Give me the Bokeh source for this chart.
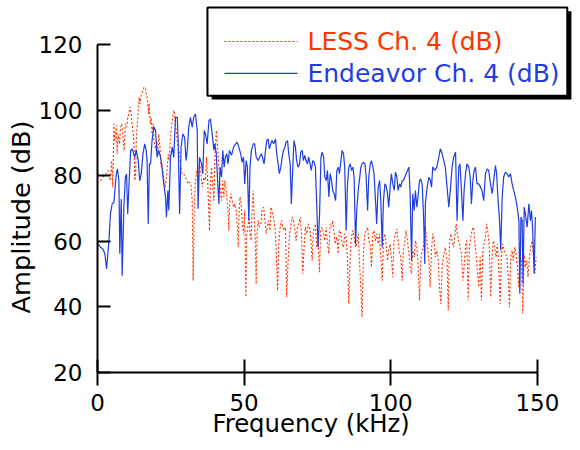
from bokeh.plotting import figure
from bokeh.models import Range1d, FixedTicker, Title
from bokeh.core.properties import value
from bokeh.embed import file_html
from bokeh.resources import INLINE

FONT = "DejaVu Sans"

# ---- data (frequency kHz, amplitude dB) ----
endeavor_pts = [
    (0.2, 59.2), (1.0, 58.2), (1.8, 57.7), (2.5, 56.2), (3.1, 51.6), (3.9, 60.2), (4.4, 68.3), (5.0, 71.4),
    (5.6, 71.9), (6.4, 80.5), (6.8, 82.1), (7.3, 78.5), (7.6, 56.2), (8.1, 72.9), (8.4, 49.5), (9.0, 70.4),
    (9.5, 79.5), (9.9, 80.5), (10.3, 68.3), (10.7, 76.5), (11.3, 87.7), (11.8, 88.2), (12.4, 86.6), (12.7, 85.6),
    (13.2, 87.7), (13.9, 84.6), (14.4, 78.5), (14.9, 80.5), (15.5, 86.6), (16.1, 89.7), (16.6, 87.7), (16.9, 84.6),
    (17.3, 65.3), (17.7, 83.6), (18.1, 83.6), (18.6, 90.7), (19.2, 94.8), (19.8, 93.8), (20.3, 85.6), (20.9, 87.7),
    (21.5, 85.6), (22.0, 82.6), (22.6, 77.5), (23.2, 73.4), (23.5, 67.3), (24.0, 75.5), (24.3, 69.4), (24.9, 85.6),
    (25.5, 88.7), (26.0, 85.6), (26.6, 97.8), (27.2, 97.8), (27.5, 90.7), (28.0, 68.3), (28.5, 88.7), (29.1, 92.7),
    (29.7, 91.7), (30.2, 84.6), (30.7, 88.7), (31.1, 94.8), (31.7, 97.8), (32.3, 94.8), (32.8, 97.8), (33.4, 98.8),
    (34.0, 93.8), (34.3, 69.9), (34.8, 85.6), (35.5, 83.6), (35.9, 80.5), (36.4, 93.8),
    (36.8, 92.8), (37.4, 89.7), (38.0, 96.8), (38.5, 97.3), (39.1, 92.8), (39.7, 87.7), (40.0, 89.7), (40.5, 86.7),
    (40.9, 79.6), (41.4, 71.4), (41.8, 82.6), (42.3, 79.6), (42.7, 87.7), (43.2, 82.6), (43.6, 85.7), (44.1, 86.7),
    (44.5, 83.6), (45.0, 87.7), (45.7, 86.2), (46.4, 88.7), (47.1, 89.7), (47.6, 90.2), (48.2, 88.7), (48.8, 86.7),
    (49.3, 84.1), (49.8, 85.7), (50.2, 77.5), (50.7, 84.6), (51.1, 82.6), (51.6, 66.3), (52.0, 82.6), (52.5, 87.7),
    (53.1, 89.7), (53.6, 89.7), (54.1, 85.7), (54.8, 84.6), (55.3, 85.7), (55.9, 86.7), (56.4, 85.1), (56.8, 83.6),
    (57.3, 87.7), (57.7, 90.7), (58.2, 91.2), (58.6, 88.2), (59.1, 89.7), (59.5, 90.7), (60.1, 89.7), (60.7, 91.2),
    (61.1, 86.7), (61.6, 83.6), (62.0, 80.6), (62.5, 82.6), (63.0, 85.7), (63.4, 87.7), (63.9, 88.7), (64.3, 90.2),
    (64.8, 90.7), (65.2, 86.7), (65.7, 83.6), (66.1, 71.4), (66.6, 82.6), (67.0, 90.7), (67.5, 88.7), (67.9, 84.6),
    (68.4, 82.6), (68.9, 83.6), (69.3, 87.2), (69.8, 87.7), (70.2, 84.6), (70.7, 86.2), (71.1, 84.6), (71.6, 83.6),
    (72.0, 85.7), (72.5, 83.6), (72.9, 81.6), (73.4, 84.6), (73.9, 84.1),
    (74.3, 82.6), (74.9, 67.4), (75.2, 58.2), (75.7, 67.4), (76.2, 85.7), (76.6, 87.2), (77.1, 85.7), (77.5, 79.6),
    (78.0, 78.5), (78.4, 81.6), (78.9, 73.5), (79.3, 80.6), (79.8, 78.5), (80.2, 75.5), (80.7, 74.5), (81.2, 72.4),
    (81.6, 81.6), (82.1, 82.6), (82.5, 80.6), (83.0, 84.6), (83.4, 87.7), (83.9, 86.7), (84.3, 82.6), (84.8, 63.3),
    (85.2, 76.5), (85.7, 82.6), (86.2, 83.6), (86.6, 81.6), (87.1, 82.6), (87.5, 79.6), (88.0, 59.2), (88.4, 69.4),
    (88.9, 75.5), (89.3, 78.5), (89.8, 82.6), (90.2, 83.6), (90.7, 84.1), (91.2, 83.6), (91.6, 79.6), (92.1, 69.4),
    (92.5, 79.6), (93.0, 83.6), (93.4, 84.6), (93.9, 82.6), (94.3, 80.6), (94.8, 72.4), (95.2, 65.3), (95.7, 76.5),
    (96.2, 78.5), (96.6, 72.4), (97.1, 58.2), (97.5, 72.4), (98.0, 77.5), (98.4, 77.0), (98.9, 74.5), (99.3, 70.4),
    (99.8, 76.5), (100.2, 80.6), (100.7, 77.5), (101.2, 75.5), (101.6, 81.1), (102.1, 79.6), (102.5, 75.5), (103.0, 77.5),
    (103.4, 76.5), (103.9, 78.5), (104.3, 78.5), (104.8, 79.6), (105.2, 80.6), (105.7, 81.6), (106.2, 82.6), (106.6, 74.5),
    (107.1, 54.1), (107.5, 74.5), (108.0, 69.4), (108.4, 75.5), (108.9, 70.4), (109.3, 73.5), (109.8, 78.5), (110.2, 79.0),
    (110.7, 77.5), (111.2, 67.4), (111.6, 53.1),
    (111.8, 71.4), (112.4, 76.5), (113.0, 79.6), (113.5, 78.5), (113.9, 76.5), (114.3, 82.6), (115.0, 81.6), (115.7, 82.6),
    (116.4, 85.7), (116.9, 88.2), (117.5, 86.7), (118.1, 84.6), (118.6, 82.6), (119.2, 76.5), (119.8, 70.4), (120.4, 76.5),
    (120.9, 82.6), (121.5, 85.7), (122.1, 87.2), (122.6, 66.3), (123.2, 82.6), (123.6, 83.6), (124.1, 75.5), (124.6, 66.3),
    (125.0, 75.5), (125.5, 80.6), (126.0, 83.6), (126.6, 82.6), (127.1, 79.6), (127.5, 71.4), (128.0, 78.5), (128.4, 81.6),
    (128.9, 82.6), (129.4, 77.5), (130.0, 77.5), (130.6, 76.5), (131.1, 75.5), (131.7, 72.4), (132.3, 80.6), (132.9, 82.1),
    (133.4, 81.6), (134.0, 77.5), (134.6, 74.5), (135.1, 78.5), (135.7, 83.1), (136.1, 80.6), (136.6, 72.4), (137.1, 66.3),
    (137.5, 57.2), (138.0, 73.5), (138.5, 79.6), (139.1, 81.1), (139.7, 80.6), (140.2, 79.6), (140.8, 80.6), (141.4, 77.5),
    (141.9, 75.5), (142.5, 73.5), (143.1, 70.4), (143.7, 66.3), (144.0, 44.0), (144.4, 67.4), (144.8, 66.3), (145.1, 47.0),
    (145.5, 70.4), (145.9, 68.4), (146.5, 64.3), (147.1, 71.4), (147.6, 66.3), (148.0, 69.4), (148.4, 63.3), (148.9, 50.1),
    (149.3, 67.4),
]

less_pts = [
    (1.0, 78.5), (1.8, 79.5), (2.7, 80.5), (3.6, 81.6), (4.4, 78.5), (4.8, 84.6), (5.2, 76.5), (5.6, 95.8),
    (5.9, 90.7), (6.4, 95.3), (6.7, 86.6), (7.0, 92.7), (7.5, 89.7), (7.8, 93.8), (8.2, 95.8), (8.6, 92.7),
    (9.1, 87.7), (9.5, 95.8), (10.0, 94.8), (10.3, 97.8), (10.7, 98.8), (11.1, 100.9), (11.5, 98.8), (11.8, 95.8),
    (12.2, 92.7), (12.5, 88.7), (12.7, 78.5), (13.0, 80.5), (13.3, 92.7), (13.6, 95.8), (13.9, 99.9), (14.2, 103.9),
    (14.5, 101.9), (15.0, 104.9), (15.5, 106.0), (15.9, 107.0), (16.4, 106.5), (16.7, 104.9), (17.0, 102.9), (17.4, 98.8),
    (17.6, 101.9), (18.0, 95.8), (18.3, 97.8), (18.6, 92.7), (19.0, 95.8), (19.2, 90.7), (19.5, 89.7), (19.9, 87.7),
    (20.2, 90.7), (20.6, 86.6), (20.9, 92.7), (21.3, 88.7), (21.7, 82.6), (22.0, 83.6), (22.4, 80.5), (22.7, 78.5),
    (23.1, 76.5), (23.4, 78.5), (23.8, 82.6), (24.1, 86.6), (24.4, 84.6), (24.8, 90.7), (25.1, 93.8), (25.5, 96.8),
    (25.8, 98.8), (26.1, 99.9), (26.5, 96.8), (26.8, 93.8), (27.2, 90.7), (27.5, 88.7), (28.0, 86.6), (28.4, 82.6),
    (28.9, 80.5), (29.4, 80.5), (30.0, 79.5), (30.5, 78.5), (30.9, 77.5), (31.4, 78.0), (31.8, 77.5), (32.3, 72.4),
    (32.6, 48.0), (33.0, 70.4), (33.4, 78.5), (33.9, 81.6), (34.3, 78.5), (34.8, 83.6), (35.2, 81.6), (35.7, 76.5),
    (36.3, 79.5), (36.8, 78.5),
    (37.2, 85.7), (37.5, 79.6), (37.8, 72.4), (38.2, 63.3), (38.5, 78.5), (38.9, 82.6), (39.3, 76.5), (39.7, 72.4),
    (40.0, 84.6), (40.5, 93.8), (40.9, 89.7), (41.4, 82.6), (41.8, 76.5), (42.3, 72.4), (42.7, 78.5), (43.1, 73.5),
    (43.4, 78.5), (43.9, 75.5), (44.2, 72.4), (44.5, 69.4), (44.8, 63.3), (45.1, 72.4), (45.5, 74.5), (45.9, 72.4),
    (46.4, 70.4), (46.8, 71.4), (47.3, 69.4), (47.7, 64.3), (48.0, 58.2), (48.3, 69.4), (48.6, 73.5), (49.0, 71.4),
    (49.3, 66.3), (49.8, 62.3), (50.2, 69.4), (50.6, 43.0), (50.9, 62.3), (51.4, 65.3), (51.7, 67.4), (52.0, 62.3),
    (52.4, 60.2), (52.7, 69.4), (53.1, 75.5), (53.4, 68.4), (53.8, 60.2), (54.1, 47.0), (54.4, 62.3), (54.8, 66.3),
    (55.2, 64.3), (55.7, 65.3), (56.1, 69.4), (56.6, 70.4), (57.0, 67.4), (57.5, 62.3), (57.9, 64.3), (58.4, 66.3),
    (58.8, 63.3), (59.1, 70.4), (59.5, 69.4), (60.0, 67.4), (60.5, 64.3), (60.9, 58.2), (61.4, 45.0), (61.8, 59.2),
    (62.3, 64.3), (62.7, 66.3), (63.2, 64.3), (63.6, 63.3), (64.1, 64.3), (64.5, 43.0), (65.0, 54.1), (65.5, 62.3),
    (65.9, 64.3), (66.4, 67.4), (66.8, 66.3), (67.3, 63.3), (67.7, 60.2), (68.2, 64.3), (68.6, 65.3), (69.1, 67.4),
    (69.5, 63.3), (70.0, 50.1), (70.5, 59.2), (70.9, 64.3), (71.4, 62.3), (71.8, 65.3), (72.3, 64.3), (72.7, 61.3),
    (73.2, 54.1), (73.6, 63.3), (74.1, 64.3),
    (74.3, 65.3), (74.8, 58.2), (75.2, 60.2), (75.7, 50.6), (76.1, 63.3), (76.6, 64.3), (77.1, 62.3), (77.5, 60.2),
    (78.0, 64.3), (78.4, 59.2), (78.9, 56.2), (79.3, 65.3), (79.8, 64.3), (80.2, 66.3), (80.7, 62.3), (81.1, 59.2),
    (81.6, 61.3), (82.1, 56.2), (82.5, 63.3), (83.0, 62.3), (83.4, 59.2), (83.9, 58.2), (84.3, 62.3), (84.8, 61.3),
    (85.2, 55.2), (85.7, 40.9), (86.2, 56.2), (86.6, 61.3), (87.1, 63.3), (87.5, 61.3), (88.0, 58.2), (88.4, 59.2),
    (88.9, 62.3), (89.3, 54.1), (89.8, 46.0), (90.2, 36.9), (90.7, 56.2), (91.1, 62.3), (91.6, 63.3), (92.1, 64.3),
    (92.5, 60.2), (93.0, 59.2), (93.4, 52.1), (93.9, 62.3), (94.3, 63.3), (94.8, 60.2), (95.2, 62.3), (95.7, 59.2),
    (96.1, 62.3), (96.6, 55.2), (97.1, 48.0), (97.5, 60.2), (98.0, 62.3), (98.4, 59.2), (98.9, 54.1), (99.3, 57.2),
    (99.8, 59.2), (100.2, 55.2), (100.7, 49.1), (101.1, 60.2), (101.6, 62.3), (102.1, 63.8), (102.5, 60.2), (103.0, 56.2),
    (103.4, 55.2), (103.9, 48.0), (104.3, 57.2), (104.8, 60.2), (105.2, 63.3), (105.7, 60.2), (106.1, 57.2), (106.6, 52.1),
    (107.1, 50.1), (107.5, 57.2), (108.0, 55.2), (108.4, 60.2), (108.9, 58.2), (109.3, 53.1), (109.8, 42.0), (110.2, 54.1),
    (110.7, 57.2), (111.1, 58.2), (111.6, 62.3),
    (111.8, 64.3), (112.4, 59.2), (113.0, 54.1), (113.4, 46.0), (113.9, 57.2), (114.3, 62.3), (114.8, 60.2), (115.2, 55.2),
    (115.7, 57.2), (116.1, 55.2), (116.6, 46.0), (117.1, 40.9), (117.5, 52.1), (118.1, 56.2), (118.6, 58.2), (119.2, 54.1),
    (119.6, 38.9), (120.0, 59.2), (120.5, 62.3), (120.9, 60.2), (121.4, 58.2), (121.8, 61.3), (122.3, 65.3), (122.7, 62.3),
    (123.2, 60.2), (123.6, 58.2), (124.1, 56.2), (124.6, 48.0), (125.0, 52.1), (125.5, 58.2), (125.9, 60.2), (126.4, 42.0),
    (126.8, 58.2), (127.3, 61.3), (127.7, 63.3), (128.2, 64.3), (128.6, 60.2), (129.1, 56.2), (129.6, 50.1), (130.0, 46.0),
    (130.5, 55.2), (130.9, 42.0), (131.4, 57.2), (131.8, 59.2), (132.3, 61.3), (132.7, 65.3), (133.2, 62.3), (133.6, 58.2),
    (134.1, 43.0), (134.6, 56.2), (135.0, 60.2), (135.5, 58.2), (135.9, 55.2), (136.4, 59.2), (136.8, 52.1), (137.3, 40.9),
    (137.7, 55.2), (138.2, 59.2), (138.6, 57.2), (139.1, 56.2), (139.6, 55.2), (140.0, 50.1), (140.5, 39.9), (140.9, 55.2),
    (141.4, 57.2), (141.8, 54.1), (142.3, 58.2), (142.7, 56.2), (143.2, 52.1), (143.7, 46.0), (144.1, 55.2), (144.6, 54.1),
    (145.0, 37.9), (145.5, 56.2), (145.9, 52.1), (146.4, 54.1), (146.8, 49.1), (147.3, 55.2), (147.7, 58.2), (148.2, 60.2),
    (148.6, 56.2), (149.1, 50.1), (149.6, 55.2),
]

endeavor_freq = [f for f, _ in endeavor_pts]
endeavor_db = [d for _, d in endeavor_pts]
less_freq = [f for f, _ in less_pts]
less_db = [d for _, d in less_pts]

x_ticks = [0, 50, 100, 150]
y_ticks = [20, 40, 60, 80, 100, 120]
series_names = ["LESS Ch. 4 (dB)", "Endeavor Ch. 4 (dB)"]
x_title = "Frequency (kHz)"
y_title = "Amplitude (dB)"

RED = "#ff3300"
BLUE = "#1f3de0"

p = figure(width=580, height=450, output_backend="svg", toolbar_location=None,
           x_range=Range1d(0, 164.7), y_range=Range1d(20, 133.4),
           min_border_left=97, min_border_right=0, min_border_top=0, min_border_bottom=78)
p.outline_line_color = None
p.grid.visible = False
p.background_fill_color = "white"
p.border_fill_color = "white"

for ax in (p.xaxis[0], p.yaxis[0]):
    ax.axis_line_width = 2
    ax.axis_line_color = "black"
    ax.major_tick_line_width = 2
    ax.major_tick_line_color = "black"
    ax.minor_tick_line_color = None
    ax.major_label_text_font = FONT
    ax.major_label_text_font_size = "23px"
    ax.major_label_text_color = "black"

p.xaxis.ticker = FixedTicker(ticks=x_ticks)
p.yaxis.ticker = FixedTicker(ticks=y_ticks)
p.xaxis.bounds = (0, 150)
p.yaxis.bounds = (20, 120)
p.xaxis.major_tick_in = 13
p.xaxis.major_tick_out = 13
p.yaxis.major_tick_in = 13
p.yaxis.major_tick_out = 0
p.xaxis.major_label_standoff = 8
p.yaxis.major_label_standoff = 15

# axis titles (offset = distance from the start of the frame edge)
p.add_layout(Title(text=x_title, align="left", offset=115, standoff=-10, vertical_align="top",
                   text_font=FONT, text_font_size="24.3px", text_font_style="normal",
                   text_color="black"), "below")
p.add_layout(Title(text=y_title, align="left", offset=59, standoff=0,
                   text_font=FONT, text_font_size="25.6px", text_font_style="normal",
                   text_color="black"), "left")

# data
p.line(less_freq, less_db, line_color=RED, line_width=1.1, line_dash="2 2")
p.line(endeavor_freq, endeavor_db, line_color=BLUE, line_width=1.2)

# legend box with drop shadow
p.quad(left=[38.9], right=[161.6], top=[130.1], bottom=[103.2], fill_color="black", line_color=None)
p.quad(left=[37.5], right=[160.2], top=[131.3], bottom=[104.4], fill_color="white",
       line_color="black", line_width=2)
p.line([43.3, 68.2], [120.9, 120.9], line_color=RED, line_width=1.1, line_dash="2 2")
p.line([43.3, 68.2], [111.2, 111.2], line_color=BLUE, line_width=1.2)
p.text(x=[71.6, 71.6], y=[120.9, 111.2], text=series_names, text_color=[RED, BLUE],
       text_font=value(FONT), text_font_size="25px", text_baseline="middle", text_align="left")

open("out.html", "w").write(file_html(p, INLINE))
